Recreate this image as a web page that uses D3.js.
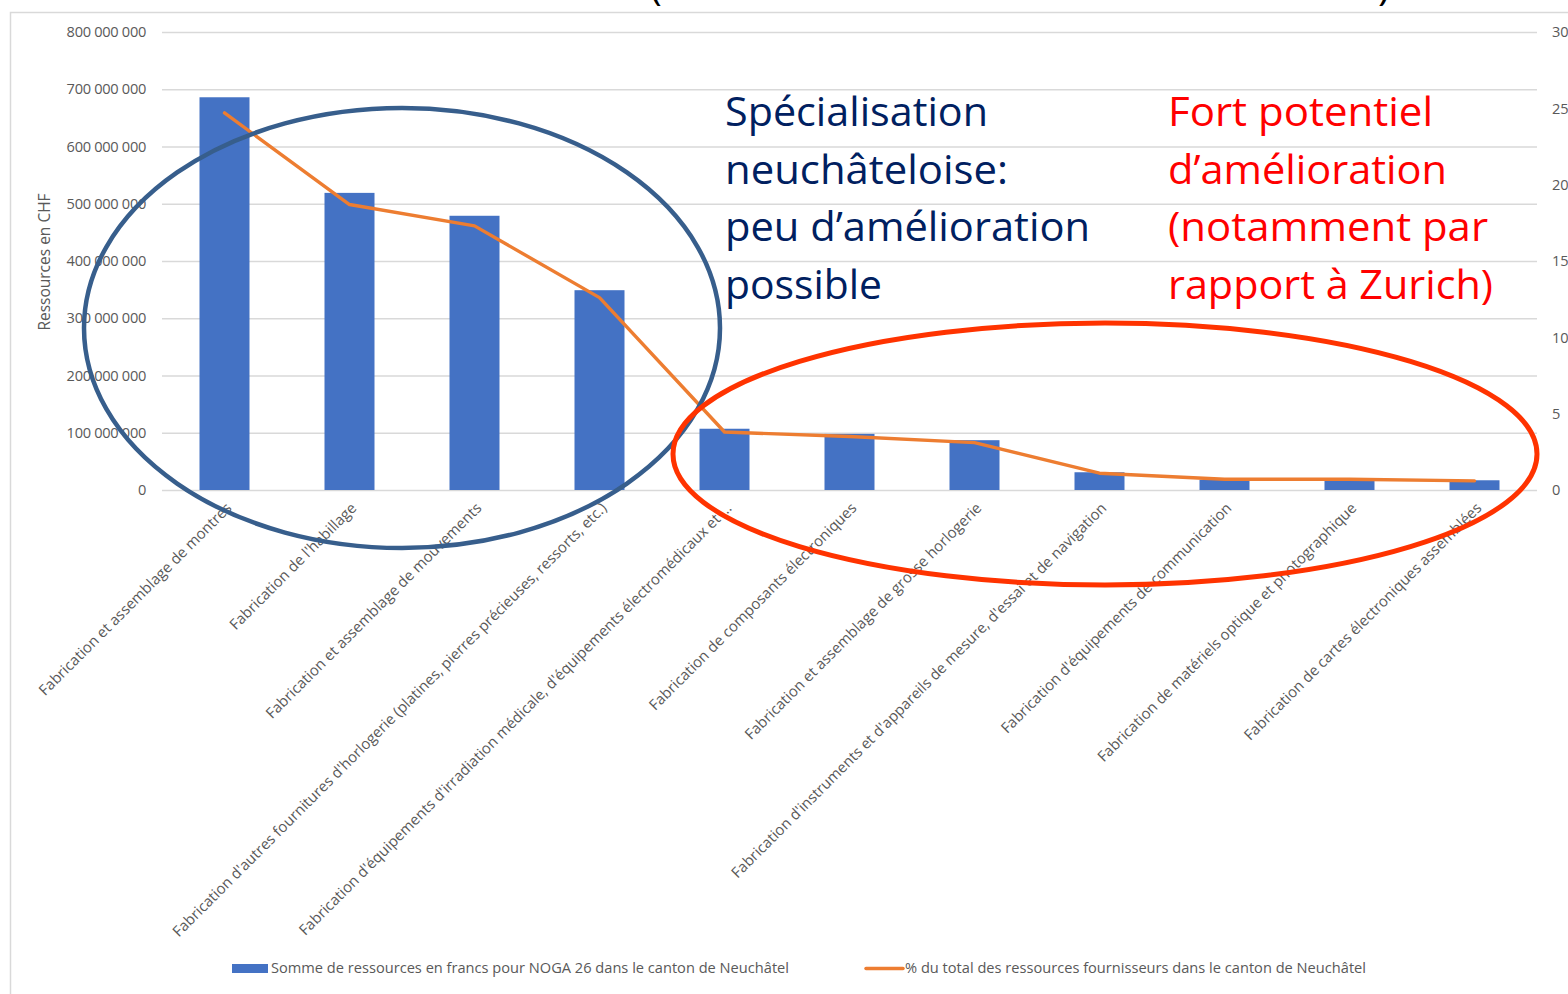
<!DOCTYPE html>
<html>
<head>
<meta charset="utf-8">
<script src="https://cdn.jsdelivr.net/npm/d3@7"></script>
<style>
  body { margin: 0; background: #fff; }
  svg text { font-family: "Open Sans", sans-serif; }
</style>
</head>
<body>
<div id="chart"></div>
<script>
// Data
var categories = [
  "Fabrication et assemblage de montres",
  "Fabrication de l'habillage",
  "Fabrication et assemblage de mouvements",
  "Fabrication d'autres fournitures d'horlogerie (platines, pierres précieuses, ressorts, etc.)",
  "Fabrication d'équipements d'irradiation médicale, d'équipements électromédicaux et ...",
  "Fabrication de composants électroniques",
  "Fabrication et assemblage de grosse horlogerie",
  "Fabrication d'instruments et d'appareils de mesure, d'essai et de navigation",
  "Fabrication d'équipements de communication",
  "Fabrication de matériels optique et photographique",
  "Fabrication de cartes électroniques assemblées"
];
var ressources = [686e6, 519e6, 479e6, 349e6, 107e6, 98e6, 87e6, 31e6, 18e6, 18e6, 17e6];
var pctTotal = [24.7, 18.7, 17.3, 12.6, 3.8, 3.5, 3.1, 1.1, 0.7, 0.7, 0.6];
var leftTicks = [0, 1e8, 2e8, 3e8, 4e8, 5e8, 6e8, 7e8, 8e8];
var rightTicks = [0, 5, 10, 15, 20, 25, 30];
var legendLabels = [
  "Somme de ressources en francs pour NOGA 26 dans le canton de Neuchâtel",
  "% du total des ressources fournisseurs dans le canton de Neuchâtel"
];
var noteBlue = ["Spécialisation", "neuchâteloise:", "peu d\u2019amélioration", "possible"];
var noteRed = ["Fort potentiel", "d\u2019amélioration", "(notamment par", "rapport à Zurich)"];

var width = 1568, height = 994;
var m = {left: 162, right: 1537, top: 32, bottom: 490};
var grey = '#595959';

var svg = d3.select("#chart").append("svg")
  .attr("width", width)
  .attr("height", height);

// frame
svg.append('rect').attr('x', 10.5).attr('y', 12.5)
  .attr('width', 1600).attr('height', 1100)
  .attr('fill', 'none').attr('stroke', '#d9d9d9').attr('stroke-width', 1.5);

// cropped title brackets
svg.append('text').attr('x', 650).attr('y', 0).attr('font-size', 40).attr('fill', '#000').text('(');
svg.append('text').attr('x', 1378).attr('y', 0).attr('font-size', 40).attr('fill', '#000').text(')');

var x = d3.scaleBand().domain(categories).range([m.left, m.right]).paddingInner(0.6).paddingOuter(0.3);
var y = d3.scaleLinear().domain([0, 8e8]).range([m.bottom, m.top]);
var y2 = d3.scaleLinear().domain([0, 30]).range([m.bottom, m.top]);

var fmt = function(v){ return v === 0 ? '0' : d3.format(',')(v).replace(/,/g, ' '); };

// gridlines
svg.append('g').selectAll('line').data(leftTicks).enter().append('line')
  .attr('x1', m.left).attr('x2', m.right)
  .attr('y1', function(d){ return y(d) + 0.5; })
  .attr('y2', function(d){ return y(d) + 0.5; })
  .attr('stroke', '#d9d9d9').attr('stroke-width', 1.3);

// left axis
var yAxis = svg.append('g').attr('transform', utils_translation(150, 0))
  .call(d3.axisLeft(y).tickValues(leftTicks).tickFormat(fmt).tickSize(0));
yAxis.select('.domain').remove();
yAxis.selectAll('text').attr('fill', grey).attr('font-size', 14.6).attr('x', -4)
  .attr('letter-spacing', -0.3);

// right axis
var y2Axis = svg.append('g').attr('transform', utils_translation(1548, 0))
  .call(d3.axisRight(y2).tickValues(rightTicks).tickSize(0));
y2Axis.select('.domain').remove();
y2Axis.selectAll('text').attr('fill', grey).attr('font-size', 14.6).attr('x', 4);

// axis title
svg.append('text')
  .attr('transform', 'translate(50,262) rotate(-90)')
  .attr('text-anchor', 'middle').attr('font-size', 15.5).attr('fill', grey)
  .text('Ressources en CHF');

// bars
svg.append('g').selectAll('rect').data(ressources).enter().append('rect')
  .attr('x', function(d, i){ return x(categories[i]); })
  .attr('y', function(d){ return y(d); })
  .attr('width', x.bandwidth())
  .attr('height', function(d){ return y(0) - y(d); })
  .attr('fill', '#4472C4');

// line
var line = d3.line()
  .x(function(d, i){ return x(categories[i]) + x.bandwidth() / 2; })
  .y(function(d){ return y2(d); });
svg.append('path').datum(pctTotal)
  .attr('d', line).attr('fill', 'none')
  .attr('stroke', '#ED7D31').attr('stroke-width', 3.4).attr('stroke-linejoin', 'round').attr('stroke-linecap', 'round');

// category labels
svg.append('g').selectAll('text').data(categories).enter().append('text')
  .attr('transform', function(d){
    return 'translate(' + (x(d) + x.bandwidth() / 2 + 8) + ',' + 509 + ') rotate(-45)';
  })
  .attr('text-anchor', 'end').attr('font-size', 14.9).attr('fill', grey)
  .text(function(d){ return d; });

// annotations
svg.append('ellipse').attr('cx', 402).attr('cy', 328).attr('rx', 318).attr('ry', 220)
  .attr('fill', 'none').attr('stroke', '#375E8C').attr('stroke-width', 4.5);
svg.append('ellipse').attr('cx', 1105).attr('cy', 454).attr('rx', 432).attr('ry', 131)
  .attr('fill', 'none').attr('stroke', '#FF3300').attr('stroke-width', 5);

var blueW = [263, 283, 365, 157];
var redW = [265, 279, 320, 325];
svg.append('g').selectAll('text').data(noteBlue).enter().append('text')
  .attr('x', 725).attr('y', function(d, i){ return 126 + i * 57.5; })
  .attr('font-family', 'Lato, sans-serif').attr('font-size', 41).attr('fill', '#002060')
  .attr('textLength', function(d, i){ return blueW[i]; }).attr('lengthAdjust', 'spacingAndGlyphs')
  .text(function(d){ return d; });
svg.append('g').selectAll('text').data(noteRed).enter().append('text')
  .attr('x', 1168).attr('y', function(d, i){ return 126 + i * 57.5; })
  .attr('font-family', 'Lato, sans-serif').attr('font-size', 41).attr('fill', '#FF0000')
  .attr('textLength', function(d, i){ return redW[i]; }).attr('lengthAdjust', 'spacingAndGlyphs')
  .text(function(d){ return d; });

// legend
var leg = svg.append('g');
leg.append('rect').attr('x', 232).attr('y', 964).attr('width', 36).attr('height', 9).attr('fill', '#4472C4');
leg.append('text').attr('x', 271).attr('y', 973).attr('font-size', 14).attr('fill', grey)
  .attr('textLength', 518).attr('lengthAdjust', 'spacingAndGlyphs').text(legendLabels[0]);
leg.append('line').attr('x1', 866).attr('x2', 903).attr('y1', 968.5).attr('y2', 968.5)
  .attr('stroke', '#ED7D31').attr('stroke-width', 3.5).attr('stroke-linecap', 'round');
leg.append('text').attr('x', 905).attr('y', 973).attr('font-size', 14).attr('fill', grey)
  .attr('textLength', 461).attr('lengthAdjust', 'spacingAndGlyphs').text(legendLabels[1]);

// Utils
function utils_translation(a, b){ return 'translate(' + a + ',' + b + ')'; }
</script>
</body>
</html>
